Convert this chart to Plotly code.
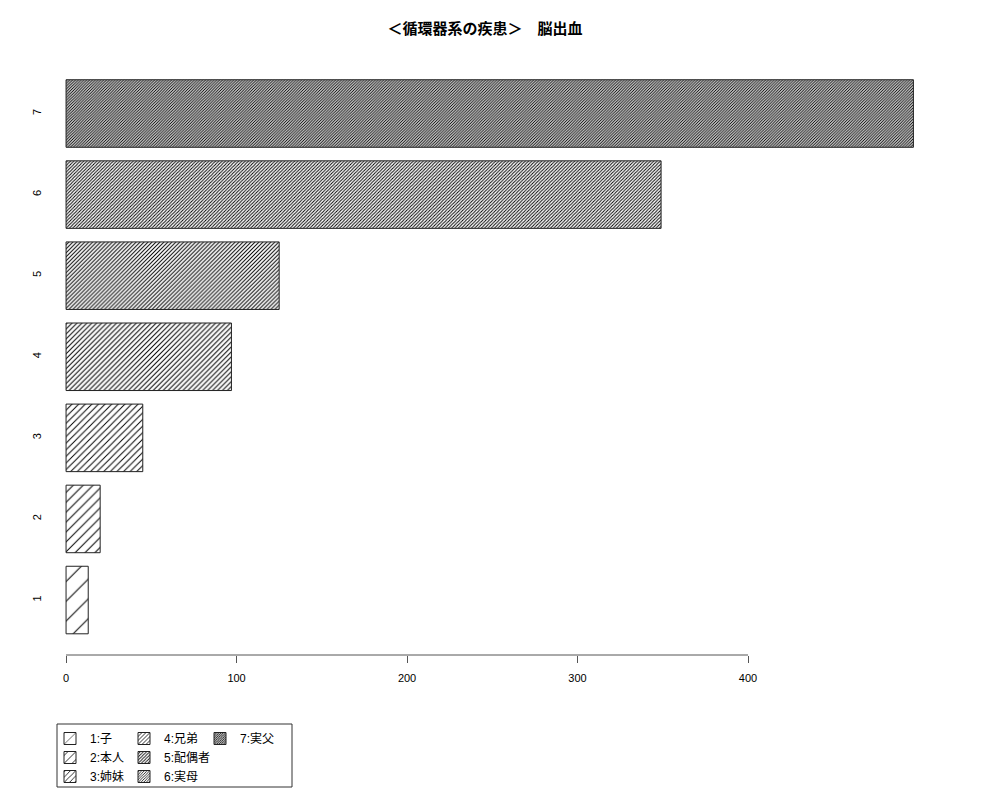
import plotly.graph_objects as go

# ---- data ----
bar_ids = [1, 2, 3, 4, 5, 6, 7]
bar_tick_labels = ["1", "2", "3", "4", "5", "6", "7"]
legend_names = ["1:子", "2:本人", "3:姉妹", "4:兄弟", "5:配偶者", "6:実母", "7:実父"]
counts = [13, 20, 45, 97, 125, 349, 497]
x_ticks = [0, 100, 200, 300, 400]
x_tick_labels = ["0", "100", "200", "300", "400"]
title_text = "<b>＜循環器系の疾患＞　脳出血</b>"

# ---- style ----
hatch_sizes = [14, 7, 4.67, 3.5, 2.8, 2.33, 2.0]
line_px = 1.0
legend_of = ["legend", "legend", "legend", "legend2", "legend2", "legend2", "legend3"]
FONT = "Liberation Sans, Arial, Noto Sans CJK JP, sans-serif"

OFF = 8  # page body margin
W, H = 1000 - 2 * OFF, 800 - 2 * OFF
# plot area in screen pixels
SL, SR, ST, SB = 56, 947, 57, 655
L, T = SL - OFF, ST - OFF
R, B = W - (SR - OFF), H - (SB - OFF)
pw, ph = W - L - R, H - T - B

def px_x(p):
    return (p - OFF - L) / pw

def px_y(p):
    return (H - B - (p - OFF)) / ph

fig = go.Figure()
for i in range(len(bar_ids)):
    s = hatch_sizes[i]
    fig.add_trace(go.Bar(
        x=[counts[i]], y=[bar_ids[i]], orientation="h", width=0.833,
        name=legend_names[i], legend=legend_of[i],
        marker=dict(color="white",
                    line=dict(color="#222222", width=1),
                    pattern=dict(shape="/", size=s, solidity=min(line_px / s, 0.6),
                                 fgcolor="black", bgcolor="white", fillmode="replace")),
        hoverinfo="x+name",
    ))

leg_common = dict(font=dict(family=FONT, size=12, color="black"), bgcolor="rgba(0,0,0,0)",
                  borderwidth=0, orientation="v", xanchor="left", yanchor="top",
                  traceorder="normal", itemwidth=30)

LEG_TOP = 724
fig.update_layout(
    width=W, height=H,
    margin=dict(l=L, r=R, t=T, b=B, autoexpand=False),
    paper_bgcolor="white", plot_bgcolor="white",
    barmode="overlay",
    font=dict(family=FONT, size=11, color="black"),
    title=dict(text=title_text, x=(485 - OFF) / W, xanchor="center", xref="container",
               y=1 - (29 - OFF) / H, yanchor="middle", yref="container",
               font=dict(family=FONT, size=15, color="black")),
    showlegend=True,
    legend=dict(x=px_x(50), y=px_y(LEG_TOP), **leg_common),
    legend2=dict(x=px_x(124), y=px_y(LEG_TOP), **leg_common),
    legend3=dict(x=px_x(200), y=px_y(LEG_TOP), **leg_common),
    xaxis=dict(range=[-5.9, 516.7], tickvals=x_ticks, ticktext=x_tick_labels,
               ticks="outside", ticklen=7, tickcolor="#555555", tickwidth=1,
               showline=False, showgrid=False, zeroline=False, ticklabelstandoff=6,
               tickfont=dict(family=FONT, size=11, color="black")),
    yaxis=dict(range=[0.322, 7.697], tickvals=bar_ids, ticktext=bar_tick_labels,
               tickangle=-90, ticks="", showline=False, showgrid=False, zeroline=False,
               ticklabelstandoff=12,
               tickfont=dict(family=FONT, size=11, color="black")),
)

# axis line spanning the ticks (R style)
fig.add_shape(type="line", xref="x", yref="paper", x0=min(x_ticks), x1=max(x_ticks),
              y0=0, y1=0, line=dict(color="#555555", width=1))
# legend box
fig.add_shape(type="rect", xref="paper", yref="paper",
              x0=px_x(57), x1=px_x(292), y0=px_y(787), y1=px_y(724),
              line=dict(color="#333333", width=1), fillcolor="rgba(0,0,0,0)")

fig.write_html("out.html")
